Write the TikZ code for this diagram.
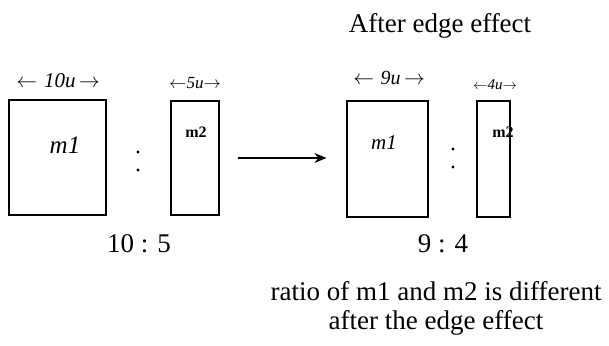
\documentclass[tikz,border=0pt]{standalone}
\usepackage{fontspec}
\setmainfont{Liberation Serif}
\usepackage{tikz}
\usetikzlibrary{positioning, arrows.meta, calc}

\begin{document}
\begin{tikzpicture}[
    x=1pt, y=-1pt,
    block/.style = {draw=black, line width=1.2pt, inner sep=0pt},
    dot/.style   = {circle, fill=black, inner sep=0pt, minimum size=3.4pt},
    hand/.style  = {font=\fontsize{#1}{#1}\selectfont\itshape, inner sep=1pt},
    mass/.style  = {font=\fontsize{#1}{#1}\selectfont\itshape, inner sep=1pt},
    tag/.style   = {font=\fontsize{#1}{#1}\selectfont\bfseries, inner sep=1pt},
    big/.style   = {font=\fontsize{27}{29}\selectfont, align=center, inner sep=0pt},
    flow/.style  = {-{Stealth[length=12pt, width=10pt, inset=4pt]}, line width=1.2pt},
  ]
  \useasboundingbox (0,0) rectangle (609,345);

  % before the edge effect
  \node[block, minimum width=97pt, minimum height=115pt] (m1a) at (57.5,157.5) {};
  \node[block, minimum width=48pt, minimum height=114pt] (m2a) at (195,158) {};
  % after the edge effect
  \node[block, minimum width=81pt, minimum height=116pt] (m1b) at (387.5,159) {};
  \node[block, minimum width=33pt, minimum height=116pt] (m2b) at (493.5,159) {};

  % colons between the blocks
  \foreach \n/\x/\y in {ca1/138/152, ca2/138/170, cb1/453/149, cb2/453/167}
    \node[dot] (\n) at (\x,\y) {};

  % widths above the blocks
  \node[hand=21] (wa1) at (58,81) {$\leftarrow$\,\,10u\,$\rightarrow$};
  \node[hand=17] (wa2) at (195,83) {$\leftarrow$5u$\rightarrow$};
  \node[hand=20] (wb1) at (389,78) {$\leftarrow$\,\,9u\,$\rightarrow$};
  \node[hand=15] (wb2) at (495,85) {$\leftarrow$4u$\rightarrow$};

  % names inside the blocks
  \node[mass=25] (na1) at (65,145) {m1};
  \node[tag=16] (na2) at (196,132) {m2};
  \node[mass=21] (nb1) at (384,143) {m1};
  \node[tag=16] (nb2) at (503,132) {m2};

  \draw[flow, shorten <=18pt, shorten >=20pt] (m2a.east) -- (m2a.east -| m1b.west);

  \node[big] (title) at (440,26) {After edge effect};
  \node[big] (ra) at (139,244) {10 : 5};
  \node[big] (rb) at (443,244) {9 : 4};
  \node[big] (note) at (436,308) {ratio of m1 and m2 is different\\after the edge effect};
\end{tikzpicture}
\end{document}
